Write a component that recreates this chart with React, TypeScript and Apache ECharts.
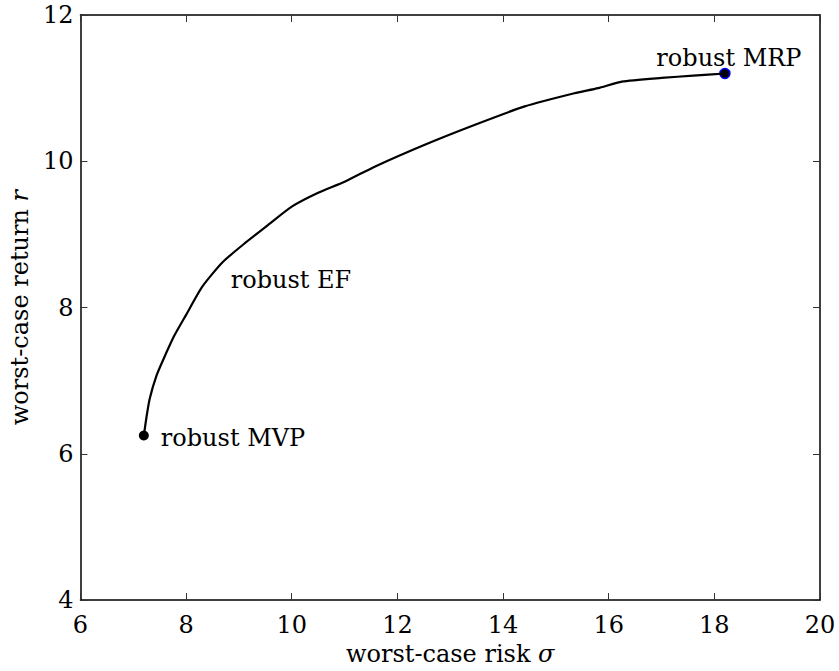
import React, { useEffect, useRef } from "react";
import * as echarts from "echarts";

// worst-case risk (sigma) along the robust efficient frontier
const riskValues = [
  7.2, 7.25, 7.31, 7.44, 7.6, 7.78, 8.0, 8.3, 8.69, 9.13, 9.57, 10.0, 10.5,
  11.0, 11.58, 12.53, 13.47, 14.41, 15.35, 15.8, 16.25, 17.0, 17.6, 18.2,
];
// worst-case return (r) along the robust efficient frontier
const returnValues = [
  6.25, 6.5, 6.75, 7.07, 7.34, 7.62, 7.9, 8.28, 8.62, 8.89, 9.14, 9.38, 9.57,
  9.72, 9.93, 10.23, 10.5, 10.75, 10.93, 11.0, 11.09, 11.14, 11.17, 11.2,
];
const mvpPoint = [7.2, 6.25];
const mrpPoint = [18.2, 11.2];
const efLabelPoint = [8.845, 8.375];

const xTicks = { min: 6, max: 20, interval: 2 };
const yTicks = { min: 4, max: 12, interval: 2 };

const FONT = "DejaVu Serif";
const FS = 24;

export default function App() {
  const ref = useRef<HTMLDivElement>(null);
  useEffect(() => {
    if (!ref.current) return;
    const chart = echarts.init(ref.current, undefined, { renderer: "svg" });
    const frontier = riskValues.map((x, i) => [x, returnValues[i]]);
    const axisLine = { show: true, lineStyle: { color: "#000", width: 1.5 } };
    const tick = { show: true, inside: true, length: 7, lineStyle: { color: "#333", width: 1 } };
    const labelBase = { color: "#000", fontFamily: FONT, fontSize: FS, opacity: 1 };
    chart.setOption({
      animation: false,
      backgroundColor: "#fff",
      grid: { left: 77, right: 19, top: 15, bottom: 69, containLabel: false },
      xAxis: [
        {
          type: "value",
          ...xTicks,
          position: "bottom",
          axisLine,
          axisTick: tick,
          splitLine: { show: false },
          axisLabel: { color: "#000", fontFamily: FONT, fontSize: FS, margin: 13 },
          name: "worst-case risk {i|σ}",
          nameLocation: "middle",
          nameGap: 40,
          nameTextStyle: {
            color: "#000",
            fontFamily: FONT,
            fontSize: FS,
            rich: { i: { fontStyle: "italic", fontFamily: FONT, fontSize: FS, color: "#000" } },
          },
        },
        {
          type: "value",
          ...xTicks,
          position: "top",
          axisLine,
          axisTick: tick,
          splitLine: { show: false },
          axisLabel: { show: false },
        },
      ],
      yAxis: [
        {
          type: "value",
          ...yTicks,
          position: "left",
          axisLine,
          axisTick: tick,
          splitLine: { show: false },
          axisLabel: { color: "#000", fontFamily: FONT, fontSize: FS, margin: 7 },
          name: "worst-case return {i|r}",
          nameLocation: "middle",
          nameGap: 42,
          nameRotate: 90,
          nameTextStyle: {
            color: "#000",
            fontFamily: FONT,
            fontSize: FS,
            rich: { i: { fontStyle: "italic", fontFamily: FONT, fontSize: FS, color: "#000" } },
          },
        },
        {
          type: "value",
          ...yTicks,
          position: "right",
          axisLine,
          axisTick: tick,
          splitLine: { show: false },
          axisLabel: { show: false },
        },
      ],
      series: [
        {
          type: "line",
          data: frontier,
          showSymbol: false,
          symbol: "none",
          smooth: 0.2,
          lineStyle: { color: "#000", width: 2.2 },
          silent: true,
        },
        {
          type: "scatter",
          data: [mvpPoint],
          symbol: "circle",
          symbolSize: 10,
          itemStyle: { color: "#000", opacity: 1 },
          label: {
            show: true,
            formatter: "robust MVP",
            position: "right",
            distance: 12,
            offset: [0, 2],
            ...labelBase,
          },
        },
        {
          type: "scatter",
          data: [mrpPoint],
          symbol: "circle",
          symbolSize: 10,
          itemStyle: { color: "#000", borderColor: "#0000ff", borderWidth: 1.5, opacity: 1 },
          label: {
            show: true,
            formatter: "robust MRP",
            position: "inside",
            offset: [4, -16],
            ...labelBase,
          },
        },
        {
          type: "scatter",
          data: [efLabelPoint],
          symbolSize: 0,
          itemStyle: { color: "transparent", opacity: 1 },
          label: {
            show: true,
            formatter: "robust EF",
            position: "inside",
            align: "left",
            ...labelBase,
          },
        },
      ],
    });
    return () => chart.dispose();
  }, []);
  return (
    <div
      ref={ref}
      style={{ position: "fixed", left: 0, top: 0, width: 839, height: 671, background: "#fff" }}
    />
  );
}
